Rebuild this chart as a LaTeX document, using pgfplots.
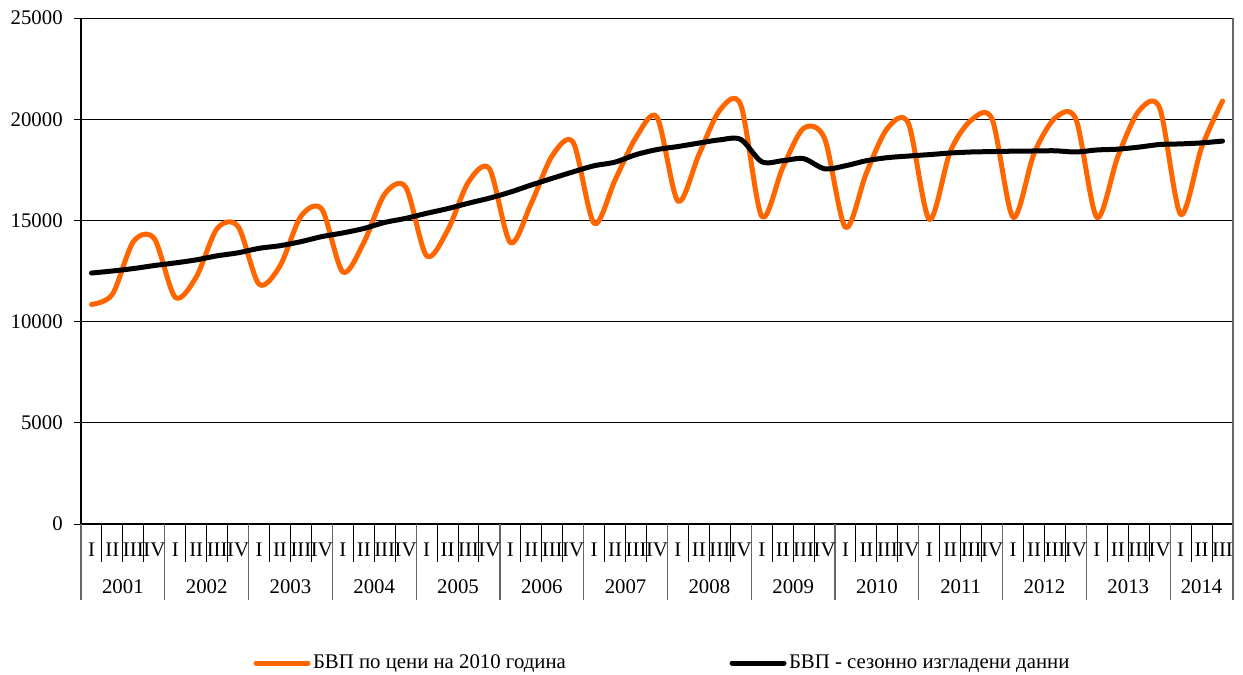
\documentclass[border=0pt]{standalone}
\usepackage{fontspec}
\setmainfont{Liberation Serif}
\usepackage{pgfplots}
\pgfplotsset{compat=1.18}
\definecolor{gdporange}{RGB}{255,102,0}

\begin{document}
\fontsize{10.4pt}{12pt}\selectfont
\begin{tikzpicture}
\path[use as bounding box] (-40.5pt,-75.5pt) rectangle (581pt,262pt);
\begin{axis}[
  scale only axis, width=576pt, height=253pt,
  xmin=0, xmax=55, ymin=0, ymax=25000,
  axis x line*=bottom, axis y line*=left,
  axis line style={black, line width=0.6pt, -},
  xtick=\empty,
  ytick={0,5000,...,25000},
  scaled y ticks=false,
  ymajorgrids, grid style={black, line width=0.5pt},
  tick align=outside, major tick length=3.5pt,
  tick style={black, line width=0.5pt},
  /pgf/number format/assume math mode=true,
  yticklabel style={/pgf/number format/1000 sep={}, /pgf/number format/fixed, font=\fontsize{10.4pt}{12pt}\selectfont, xshift=-2pt},
  clip=false,
  legend columns=2,
  legend style={at={(rel axis cs:0.505,-0.2747)}, anchor=center, draw=none, fill=none,
     inner sep=0pt, nodes={inner sep=1.25pt}, font=\fontsize{10.4pt}{12pt}\selectfont},
  legend image code/.code={\draw[#1] (0pt,0pt) -- (26pt,0pt);},
]
\addplot[gdporange, line width=2.5pt, line cap=round, line join=round, smooth] coordinates {
(0.5,10850) (1.5,11350) (2.5,13950) (3.5,14100)
(4.5,11200) (5.5,12200) (6.5,14600) (7.5,14700)
(8.5,11850) (9.5,12750) (10.5,15200) (11.5,15550)
(12.5,12450) (13.5,13900) (14.5,16300) (15.5,16650)
(16.5,13250) (17.5,14500) (18.5,16900) (19.5,17550)
(20.5,13900) (21.5,15850) (22.5,18200) (23.5,18850)
(24.5,14850) (25.5,17000) (26.5,19100) (27.5,20100)
(28.5,15950) (29.5,18250) (30.5,20450) (31.5,20700)
(32.5,15200) (33.5,17600) (34.5,19550) (35.5,19050)
(36.5,14650) (37.5,17350) (38.5,19550) (39.5,19800)
(40.5,15050) (41.5,18400) (42.5,19950) (43.5,20000)
(44.5,15150) (45.5,18300) (46.5,20050) (47.5,20000)
(48.5,15150) (49.5,18150) (50.5,20400) (51.5,20550)
(52.5,15300) (53.5,18600) (54.5,20900)
};
\addlegendentry{\makebox[207pt][l]{БВП по цени на 2010 година}}
\addplot[black, line width=2.5pt, line cap=round, line join=round, smooth] coordinates {
(0.5,12400) (1.5,12500) (2.5,12620) (3.5,12770)
(4.5,12900) (5.5,13050) (6.5,13250) (7.5,13400)
(8.5,13620) (9.5,13750) (10.5,13950) (11.5,14200)
(12.5,14380) (13.5,14600) (14.5,14900) (15.5,15100)
(16.5,15350) (17.5,15580) (18.5,15850) (19.5,16100)
(20.5,16400) (21.5,16750) (22.5,17080) (23.5,17400)
(24.5,17700) (25.5,17880) (26.5,18250) (27.5,18500)
(28.5,18650) (29.5,18820) (30.5,18980) (31.5,19000)
(32.5,17900) (33.5,17950) (34.5,18050) (35.5,17550)
(36.5,17700) (37.5,17950) (38.5,18100) (39.5,18180)
(40.5,18250) (41.5,18330) (42.5,18380) (43.5,18400)
(44.5,18420) (45.5,18430) (46.5,18440) (47.5,18380)
(48.5,18480) (49.5,18520) (50.5,18620) (51.5,18750)
(52.5,18780) (53.5,18830) (54.5,18920)
};
\addlegendentry{БВП - сезонно изгладени данни}
% category axis decoration
\pgfplotsinvokeforeach{0,...,55}{\draw[black, line width=0.5pt] (axis cs:#1,0) -- ++(0pt,-19pt);}
\pgfplotsinvokeforeach{0,4,...,52}{\draw[gray!80!black, line width=0.6pt] (axis cs:#1,0) -- ++(0pt,-38pt);}
\draw[gray!80!black, line width=0.6pt] (axis cs:55,0) -- ++(0pt,-38pt);
\draw[gray!80!black, line width=0.6pt] (axis cs:55,0) -- (axis cs:55,25000);
\pgfplotsinvokeforeach{0,4,...,48}{%
  \node[anchor=base, inner sep=0pt] at ([yshift=-16.3pt]axis cs:#1+0.5,0) {I};
  \node[anchor=base, inner sep=0pt] at ([yshift=-16.3pt]axis cs:#1+1.5,0) {II};
  \node[anchor=base, inner sep=0pt] at ([yshift=-16.3pt]axis cs:#1+2.5,0) {III};
  \node[anchor=base, inner sep=0pt] at ([yshift=-16.3pt]axis cs:#1+3.5,0) {IV};
}
\node[anchor=base, inner sep=0pt] at ([yshift=-16.3pt]axis cs:52.5,0) {I};
\node[anchor=base, inner sep=0pt] at ([yshift=-16.3pt]axis cs:53.5,0) {II};
\node[anchor=base, inner sep=0pt] at ([yshift=-16.3pt]axis cs:54.5,0) {III};
\node[anchor=base, inner sep=0pt] at ([yshift=-34.7pt]axis cs:2,0) {2001};
\node[anchor=base, inner sep=0pt] at ([yshift=-34.7pt]axis cs:6,0) {2002};
\node[anchor=base, inner sep=0pt] at ([yshift=-34.7pt]axis cs:10,0) {2003};
\node[anchor=base, inner sep=0pt] at ([yshift=-34.7pt]axis cs:14,0) {2004};
\node[anchor=base, inner sep=0pt] at ([yshift=-34.7pt]axis cs:18,0) {2005};
\node[anchor=base, inner sep=0pt] at ([yshift=-34.7pt]axis cs:22,0) {2006};
\node[anchor=base, inner sep=0pt] at ([yshift=-34.7pt]axis cs:26,0) {2007};
\node[anchor=base, inner sep=0pt] at ([yshift=-34.7pt]axis cs:30,0) {2008};
\node[anchor=base, inner sep=0pt] at ([yshift=-34.7pt]axis cs:34,0) {2009};
\node[anchor=base, inner sep=0pt] at ([yshift=-34.7pt]axis cs:38,0) {2010};
\node[anchor=base, inner sep=0pt] at ([yshift=-34.7pt]axis cs:42,0) {2011};
\node[anchor=base, inner sep=0pt] at ([yshift=-34.7pt]axis cs:46,0) {2012};
\node[anchor=base, inner sep=0pt] at ([yshift=-34.7pt]axis cs:50,0) {2013};
\node[anchor=base, inner sep=0pt] at ([yshift=-34.7pt]axis cs:53.5,0) {2014};
\end{axis}
\end{tikzpicture}
\end{document}
